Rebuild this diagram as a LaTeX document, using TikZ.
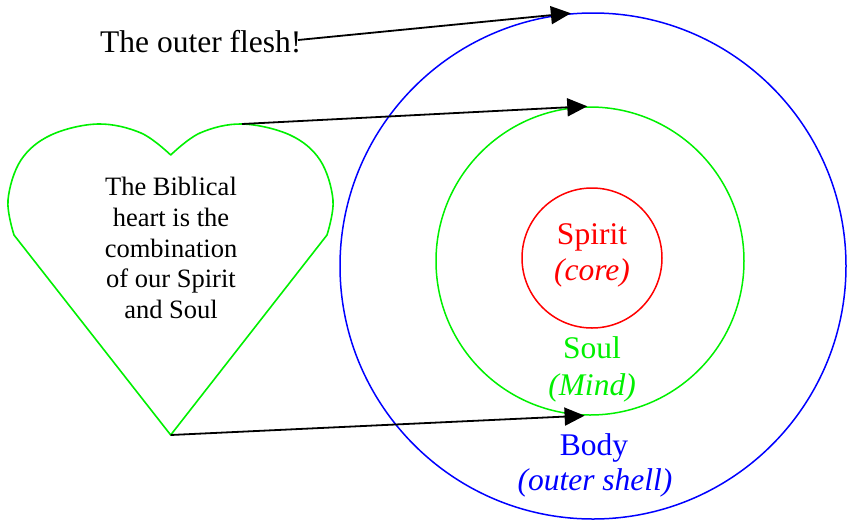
\documentclass[tikz,border=0pt]{standalone}
\usepackage{fontspec}
\setmainfont{Liberation Serif}
\usetikzlibrary{arrows.meta}
\definecolor{heartgreen}{RGB}{0,240,0}
\tikzset{
  lbl/.style={font=\fontsize{31.5}{36}\selectfont, anchor=base, inner sep=0pt},
  ring/.style={circle, draw=#1, line width=1.5pt, inner sep=0pt},
  pointer/.style={-{Triangle[length=20pt,width=18pt]}, line width=1.8pt, black},
}
\begin{document}
\begin{tikzpicture}[x=1pt,y=-1pt]
\useasboundingbox (0,0) rectangle (847,523);
% rings
\node[ring=blue, minimum size=506pt] (body) at (593,266) {};
\node[ring=heartgreen, minimum size=308pt] (soul) at (590,261) {};
\node[ring=red, minimum size=140pt] (spiritring) at (592,258) {};
% labels
\node[lbl, red] (spirit) at (592,244) {Spirit};
\node[lbl, red] (core) at (592,280) {\itshape (core)};
\node[lbl, heartgreen] (soultxt) at (592,358) {Soul};
\node[lbl, heartgreen] (mind) at (592,395) {\itshape (Mind)};
\node[lbl, blue] (bodytxt) at (594,455) {Body};
\node[lbl, blue] (shell) at (595,490) {\itshape (outer shell)};
\node[lbl, anchor=base west] (flesh) at (100,52) {The outer flesh!};
% heart
\coordinate (hearttop) at (242,124);
\coordinate (hearttip) at (170.7,435);
\draw[heartgreen, line width=1.6pt, line join=round]
  (hearttip) -- (327,235)
  -- plot[smooth, tension=0.6] coordinates {(327,235) (333,200) (320,160) (290,135) (242,124) (200,133) (170.7,155)}
  -- plot[smooth, tension=0.6] coordinates {(170.7,155) (141,133) (98,124) (51,135) (21,160) (8,200) (14,235)}
  -- cycle;
\node[font=\fontsize{26.5}{30.7}\selectfont, align=center, inner sep=0pt] (hearttext) at (171,248)
  {The Biblical\\heart is the\\combination\\of our Spirit\\and Soul};
% arrows
\coordinate (fleshend) at (298,40);
\draw[pointer] (fleshend) -- (body.95);
\draw[pointer] (hearttop) -- (soul.91);
\draw[pointer] (hearttip) -- (soul.268);
\end{tikzpicture}
\end{document}
